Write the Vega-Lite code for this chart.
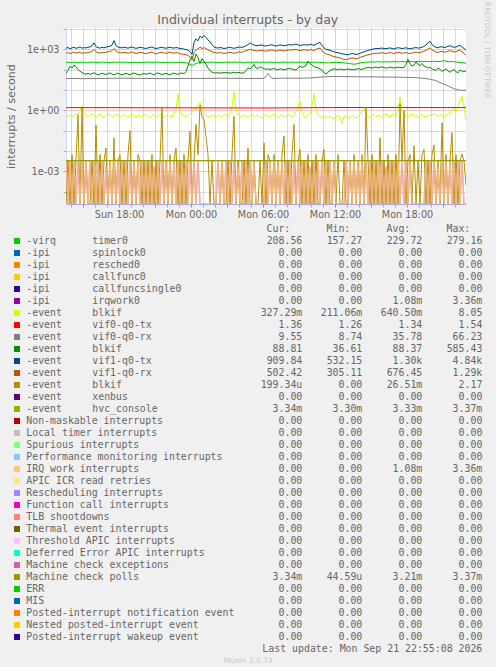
{
"$schema": "https://vega.github.io/schema/vega-lite/v6.json",
"background": "#F0F0F0",
"padding": {"left": 5, "top": 2, "right": 5, "bottom": 0},
"bounds": "flush",
"spacing": 19,
"title": {"text": "Individual interrupts - by day", "font": "DejaVu Sans", "fontSize": 12.5, "fontWeight": "normal", "color": "#666666", "anchor": "middle", "offset": -24.5},
"config": {"view": {"stroke": null}, "font": "DejaVu Sans"},
"datasets": {
"main": [
{"m":815,"a":1150,"b":640,"c":228,"d":62,"g":0.45,"h":0,"i":0.0033},
{"m":825,"a":1220,"b":690,"c":232,"d":95,"g":0.52,"h":0.0033,"i":0},
{"m":835,"a":1080,"b":610,"c":225,"d":150,"g":0.6,"h":0,"i":0.0033},
{"m":845,"a":1180,"b":670,"c":230,"d":120,"g":0.48,"h":0.0067,"i":0},
{"m":855,"a":1250,"b":720,"c":236,"d":170,"g":0.55,"h":0,"i":0.0033},
{"m":865,"a":1120,"b":650,"c":229,"d":140,"g":0.7,"h":0.0033,"i":0},
{"m":875,"a":1190,"b":680,"c":224,"d":100,"g":0.62,"h":0.6,"i":0.0033},
{"m":885,"a":1300,"b":740,"c":231,"d":85,"g":0.9,"h":0,"i":0},
{"m":895,"a":1140,"b":620,"c":235,"d":70,"g":1.6,"h":1.3,"i":0.0033},
{"m":905,"a":1210,"b":690,"c":227,"d":64,"g":0.8,"h":0,"i":0},
{"m":915,"a":1170,"b":660,"c":230,"d":60,"g":0.55,"h":0.0033,"i":0.0033},
{"m":925,"a":1260,"b":700,"c":226,"d":66,"g":0.48,"h":0,"i":0},
{"m":935,"a":1310,"b":730,"c":233,"d":58,"g":0.62,"h":0,"i":0.0033},
{"m":945,"a":1480,"b":800,"c":238,"d":63,"g":0.7,"h":0.0033,"i":0},
{"m":955,"a":2100,"b":1000,"c":231,"d":70,"g":0.52,"h":0,"i":0.0033},
{"m":965,"a":1350,"b":760,"c":228,"d":62,"g":0.45,"h":0.19,"i":0},
{"m":975,"a":1200,"b":680,"c":225,"d":55,"g":0.58,"h":0,"i":0.0033},
{"m":985,"a":1160,"b":650,"c":232,"d":60,"g":0.66,"h":0.0067,"i":0},
{"m":995,"a":1240,"b":700,"c":236,"d":67,"g":0.5,"h":0,"i":0.0033},
{"m":1005,"a":1190,"b":670,"c":230,"d":61,"g":0.43,"h":0.0033,"i":0},
{"m":1015,"a":1280,"b":720,"c":234,"d":58,"g":0.55,"h":0.014,"i":0.0017},
{"m":1025,"a":1350,"b":760,"c":229,"d":64,"g":0.72,"h":0,"i":0},
{"m":1035,"a":1420,"b":800,"c":226,"d":70,"g":0.6,"h":0.0033,"i":0.0033},
{"m":1045,"a":1600,"b":850,"c":231,"d":60,"g":0.48,"h":0,"i":0},
{"m":1055,"a":2700,"b":1100,"c":237,"d":56,"g":0.52,"h":0.045,"i":0.0033},
{"m":1065,"a":1500,"b":820,"c":233,"d":62,"g":0.65,"h":0,"i":0},
{"m":1075,"a":1300,"b":720,"c":228,"d":68,"g":0.58,"h":0.0033,"i":0.0033},
{"m":1085,"a":1220,"b":690,"c":230,"d":59,"g":0.46,"h":0.0067,"i":0},
{"m":1095,"a":1180,"b":660,"c":235,"d":55,"g":0.55,"h":0,"i":0.0033},
{"m":1105,"a":1260,"b":710,"c":229,"d":61,"g":0.62,"h":0.0033,"i":0},
{"m":1115,"a":1200,"b":680,"c":232,"d":66,"g":0.5,"h":0,"i":0.0033},
{"m":1125,"a":1150,"b":640,"c":228,"d":60,"g":0.44,"h":0.0067,"i":0},
{"m":1135,"a":1230,"b":700,"c":224,"d":57,"g":0.58,"h":0.1,"i":0.0033},
{"m":1145,"a":1310,"b":740,"c":230,"d":63,"g":0.68,"h":0,"i":0},
{"m":1155,"a":1190,"b":670,"c":234,"d":69,"g":0.53,"h":0.0033,"i":0.0033},
{"m":1165,"a":1120,"b":620,"c":231,"d":62,"g":0.47,"h":0,"i":0},
{"m":1175,"a":1180,"b":660,"c":227,"d":58,"g":0.6,"h":0.0067,"i":0.0033},
{"m":1185,"a":1260,"b":720,"c":233,"d":54,"g":0.52,"h":0.0033,"i":0},
{"m":1195,"a":1210,"b":690,"c":229,"d":60,"g":0.45,"h":0,"i":0.0033},
{"m":1205,"a":1150,"b":650,"c":226,"d":65,"g":0.56,"h":0.0033,"i":0},
{"m":1215,"a":1100,"b":610,"c":231,"d":59,"g":0.63,"h":0,"i":0.0033},
{"m":1225,"a":1180,"b":660,"c":235,"d":63,"g":0.5,"h":0.0033,"i":0},
{"m":1235,"a":1240,"b":700,"c":230,"d":68,"g":0.42,"h":0,"i":0.0033},
{"m":1245,"a":1300,"b":740,"c":226,"d":61,"g":0.55,"h":0.0067,"i":0},
{"m":1255,"a":1170,"b":650,"c":229,"d":57,"g":0.6,"h":0,"i":0.0017},
{"m":1265,"a":1090,"b":600,"c":233,"d":64,"g":0.48,"h":0.0033,"i":0},
{"m":1275,"a":1150,"b":640,"c":236,"d":70,"g":0.52,"h":0,"i":0.0033},
{"m":1285,"a":1220,"b":690,"c":230,"d":62,"g":0.66,"h":0.0033,"i":0},
{"m":1295,"a":1260,"b":720,"c":227,"d":58,"g":0.58,"h":1.4,"i":0.0033},
{"m":1305,"a":1180,"b":660,"c":232,"d":61,"g":0.47,"h":0,"i":0},
{"m":1315,"a":1130,"b":630,"c":228,"d":66,"g":0.53,"h":0.0033,"i":0.0033},
{"m":1325,"a":1210,"b":690,"c":224,"d":60,"g":0.61,"h":0,"i":0},
{"m":1335,"a":1280,"b":730,"c":230,"d":56,"g":0.5,"h":0.0067,"i":0.0033},
{"m":1345,"a":1190,"b":670,"c":234,"d":63,"g":0.45,"h":0,"i":0},
{"m":1355,"a":1140,"b":640,"c":231,"d":68,"g":0.72,"h":0.0033,"i":0.0033},
{"m":1365,"a":1230,"b":700,"c":226,"d":61,"g":1.1,"h":0.014,"i":0},
{"m":1375,"a":1170,"b":660,"c":229,"d":59,"g":6.3,"h":0,"i":0.0033},
{"m":1385,"a":1100,"b":610,"c":233,"d":65,"g":0.9,"h":0.0033,"i":0},
{"m":1395,"a":1080,"b":590,"c":228,"d":70,"g":0.6,"h":0,"i":0.0033},
{"m":1405,"a":1020,"b":560,"c":222,"d":62,"g":0.52,"h":0.0067,"i":0},
{"m":1415,"a":980,"b":540,"c":218,"d":80,"g":0.48,"h":0,"i":0.0033},
{"m":1425,"a":900,"b":500,"c":205,"d":150,"g":0.55,"h":0.0033,"i":0},
{"m":1435,"a":760,"b":420,"c":180,"d":300,"g":0.62,"h":0.095,"i":0.0033},
{"m":1445,"a":560,"b":310,"c":160,"d":470,"g":0.8,"h":0,"i":0},
{"m":1455,"a":2100,"b":700,"c":175,"d":250,"g":1.3,"h":0.0033,"i":0.0033},
{"m":1465,"a":3300,"b":950,"c":205,"d":585,"g":1.1,"h":0.2,"i":0},
{"m":1475,"a":2600,"b":1050,"c":215,"d":380,"g":1.8,"h":0.0067,"i":0.0033},
{"m":1485,"a":4500,"b":1290,"c":222,"d":200,"g":2.4,"h":1.8,"i":0},
{"m":1495,"a":3600,"b":1100,"c":230,"d":350,"g":1.2,"h":0.5,"i":0},
{"m":1505,"a":4840,"b":1200,"c":226,"d":260,"g":0.7,"h":0.35,"i":0},
{"m":1515,"a":3800,"b":1100,"c":232,"d":180,"g":0.55,"h":0.05,"i":0},
{"m":1525,"a":2900,"b":950,"c":228,"d":120,"g":0.5,"h":0.0067,"i":0},
{"m":1535,"a":2400,"b":850,"c":231,"d":90,"g":0.45,"h":0,"i":0},
{"m":1545,"a":1700,"b":760,"c":236,"d":75,"g":0.58,"h":0.0033,"i":0},
{"m":1555,"a":1300,"b":700,"c":230,"d":70,"g":0.52,"h":0,"i":0},
{"m":1565,"a":1200,"b":680,"c":227,"d":68,"g":0.47,"h":0,"i":0},
{"m":1575,"a":1150,"b":650,"c":233,"d":72,"g":0.6,"h":0,"i":0.0033},
{"m":1585,"a":1230,"b":700,"c":229,"d":66,"g":0.53,"h":0,"i":0},
{"m":1595,"a":1170,"b":660,"c":226,"d":70,"g":0.5,"h":0.0033,"i":0.0033},
{"m":1605,"a":1100,"b":630,"c":231,"d":74,"g":0.62,"h":0,"i":0},
{"m":1615,"a":1140,"b":650,"c":235,"d":69,"g":0.55,"h":0,"i":0.0033},
{"m":1625,"a":1200,"b":690,"c":230,"d":72,"g":0.48,"h":0.0033,"i":0},
{"m":1635,"a":1260,"b":720,"c":227,"d":67,"g":0.7,"h":0,"i":0.0033},
{"m":1645,"a":1180,"b":670,"c":232,"d":71,"g":1.5,"h":0.0067,"i":0},
{"m":1655,"a":1120,"b":640,"c":236,"d":75,"g":8.05,"h":0.5,"i":0.0033},
{"m":1665,"a":1190,"b":680,"c":231,"d":68,"g":1.2,"h":0,"i":0},
{"m":1675,"a":1250,"b":720,"c":228,"d":73,"g":0.6,"h":0.0033,"i":0.0017},
{"m":1685,"a":1310,"b":760,"c":233,"d":70,"g":0.52,"h":0,"i":0},
{"m":1695,"a":1230,"b":700,"c":230,"d":66,"g":0.45,"h":0,"i":0.0033},
{"m":1705,"a":1350,"b":800,"c":226,"d":72,"g":0.58,"h":0.0033,"i":0},
{"m":1715,"a":1500,"b":850,"c":231,"d":90,"g":0.5,"h":0,"i":0.0033},
{"m":1725,"a":1700,"b":900,"c":235,"d":120,"g":0.44,"h":0.014,"i":0},
{"m":1735,"a":2100,"b":1000,"c":229,"d":110,"g":0.56,"h":0,"i":0.0033},
{"m":1745,"a":1800,"b":950,"c":226,"d":130,"g":0.62,"h":0,"i":0},
{"m":1755,"a":1600,"b":880,"c":232,"d":180,"g":0.48,"h":0.0033,"i":0.0033},
{"m":1765,"a":1550,"b":850,"c":236,"d":120,"g":0.53,"h":0,"i":0},
{"m":1775,"a":1500,"b":820,"c":230,"d":115,"g":0.6,"h":0,"i":0},
{"m":1785,"a":1650,"b":900,"c":228,"d":140,"g":0.47,"h":0.0033,"i":0},
{"m":1795,"a":1600,"b":870,"c":233,"d":125,"g":0.42,"h":0,"i":0},
{"m":1805,"a":1500,"b":830,"c":231,"d":110,"g":0.55,"h":0.025,"i":0},
{"m":1815,"a":1450,"b":800,"c":227,"d":105,"g":0.62,"h":0,"i":0.0033},
{"m":1825,"a":1550,"b":860,"c":232,"d":112,"g":0.5,"h":0.0067,"i":0},
{"m":1835,"a":1600,"b":900,"c":236,"d":100,"g":0.45,"h":0.0033,"i":0.0033},
{"m":1845,"a":1700,"b":950,"c":231,"d":108,"g":0.58,"h":0,"i":0},
{"m":1855,"a":1500,"b":850,"c":228,"d":115,"g":0.66,"h":0.0067,"i":0.0033},
{"m":1865,"a":1450,"b":820,"c":234,"d":102,"g":0.5,"h":0,"i":0},
{"m":1875,"a":1550,"b":870,"c":230,"d":98,"g":0.43,"h":0.0033,"i":0.0033},
{"m":1885,"a":1650,"b":920,"c":226,"d":110,"g":0.55,"h":0,"i":0},
{"m":1895,"a":1600,"b":880,"c":232,"d":106,"g":0.6,"h":0.0067,"i":0.0033},
{"m":1905,"a":1500,"b":830,"c":235,"d":100,"g":0.48,"h":0.055,"i":0},
{"m":1915,"a":1550,"b":860,"c":230,"d":104,"g":0.52,"h":0,"i":0.0033},
{"m":1925,"a":1650,"b":920,"c":228,"d":112,"g":0.65,"h":0.0033,"i":0},
{"m":1935,"a":1700,"b":950,"c":233,"d":118,"g":0.56,"h":0,"i":0.0033},
{"m":1945,"a":1600,"b":900,"c":237,"d":106,"g":0.47,"h":0.0067,"i":0},
{"m":1955,"a":1750,"b":980,"c":231,"d":100,"g":0.6,"h":0.2,"i":0.0033},
{"m":1965,"a":1800,"b":1000,"c":227,"d":96,"g":0.9,"h":0,"i":0},
{"m":1975,"a":1650,"b":920,"c":232,"d":120,"g":1.4,"h":0.0033,"i":0.0033},
{"m":1985,"a":1550,"b":860,"c":236,"d":150,"g":2.8,"h":0.012,"i":0},
{"m":1995,"a":1600,"b":900,"c":230,"d":130,"g":0.8,"h":0,"i":0.0033},
{"m":2005,"a":1700,"b":950,"c":228,"d":140,"g":0.5,"h":0.0033,"i":0},
{"m":2015,"a":1650,"b":920,"c":233,"d":160,"g":0.45,"h":0,"i":0.0033},
{"m":2025,"a":1600,"b":880,"c":229,"d":265,"g":0.55,"h":0.0067,"i":0},
{"m":2035,"a":1750,"b":960,"c":226,"d":200,"g":0.62,"h":0,"i":0.0017},
{"m":2045,"a":1700,"b":940,"c":231,"d":170,"g":1.5,"h":0.0033,"i":0},
{"m":2055,"a":1550,"b":860,"c":237,"d":140,"g":6.3,"h":0,"i":0.0033},
{"m":2065,"a":1800,"b":1000,"c":232,"d":130,"g":1.2,"h":0.0067,"i":0},
{"m":2075,"a":2000,"b":1100,"c":228,"d":120,"g":0.58,"h":0,"i":0.0033},
{"m":2085,"a":2200,"b":1150,"c":230,"d":110,"g":0.5,"h":0,"i":0},
{"m":2095,"a":1500,"b":850,"c":225,"d":95,"g":0.44,"h":0.0033,"i":0.0033},
{"m":2105,"a":1200,"b":700,"c":220,"d":70,"g":0.52,"h":0.012,"i":0},
{"m":2115,"a":1000,"b":600,"c":215,"d":62,"g":0.48,"h":0,"i":0.0033},
{"m":2125,"a":950,"b":560,"c":212,"d":75,"g":0.4,"h":0.0033,"i":0},
{"m":2135,"a":900,"b":520,"c":218,"d":90,"g":0.53,"h":0,"i":0.0033},
{"m":2145,"a":820,"b":470,"c":222,"d":100,"g":0.46,"h":0,"i":0},
{"m":2155,"a":760,"b":440,"c":226,"d":110,"g":0.38,"h":0.0033,"i":0.0033},
{"m":2165,"a":700,"b":420,"c":230,"d":105,"g":0.5,"h":0,"i":0},
{"m":2175,"a":680,"b":400,"c":228,"d":98,"g":0.55,"h":0.0067,"i":0},
{"m":2185,"a":640,"b":380,"c":225,"d":108,"g":0.42,"h":0,"i":0},
{"m":2195,"a":600,"b":350,"c":220,"d":102,"g":0.22,"h":0,"i":0},
{"m":2205,"a":580,"b":320,"c":215,"d":96,"g":0.47,"h":0.0033,"i":0},
{"m":2215,"a":560,"b":310,"c":210,"d":104,"g":0.52,"h":0,"i":0.0033},
{"m":2225,"a":540,"b":330,"c":205,"d":110,"g":0.44,"h":0,"i":0},
{"m":2235,"a":580,"b":360,"c":198,"d":100,"g":0.4,"h":0.0033,"i":0.0033},
{"m":2245,"a":620,"b":380,"c":190,"d":106,"g":0.55,"h":0,"i":0},
{"m":2255,"a":600,"b":360,"c":185,"d":98,"g":0.48,"h":0.0067,"i":0.0033},
{"m":2265,"a":560,"b":340,"c":190,"d":104,"g":0.42,"h":0,"i":0},
{"m":2275,"a":580,"b":360,"c":200,"d":112,"g":0.5,"h":0.0033,"i":0.0033},
{"m":2285,"a":640,"b":400,"c":212,"d":108,"g":0.62,"h":0,"i":0},
{"m":2295,"a":700,"b":430,"c":222,"d":100,"g":0.9,"h":0.0067,"i":0.0033},
{"m":2305,"a":760,"b":460,"c":228,"d":115,"g":1.2,"h":0,"i":0},
{"m":2315,"a":820,"b":500,"c":232,"d":120,"g":0.7,"h":1.4,"i":0.0033},
{"m":2325,"a":880,"b":540,"c":236,"d":130,"g":0.5,"h":0.0033,"i":0},
{"m":2335,"a":940,"b":560,"c":240,"d":125,"g":0.45,"h":0,"i":0.0033},
{"m":2345,"a":1000,"b":600,"c":244,"d":118,"g":0.55,"h":0.0067,"i":0},
{"m":2355,"a":1050,"b":620,"c":238,"d":128,"g":0.62,"h":0,"i":0.0033},
{"m":2365,"a":1100,"b":650,"c":242,"d":135,"g":0.48,"h":0.0033,"i":0},
{"m":2375,"a":1080,"b":630,"c":246,"d":122,"g":0.56,"h":0,"i":0.0033},
{"m":2385,"a":1120,"b":660,"c":240,"d":130,"g":0.5,"h":0.045,"i":0},
{"m":2395,"a":1150,"b":680,"c":237,"d":140,"g":0.44,"h":0,"i":0.0033},
{"m":2405,"a":1100,"b":650,"c":243,"d":126,"g":0.58,"h":0.0033,"i":0},
{"m":2415,"a":1080,"b":620,"c":248,"d":118,"g":0.65,"h":0,"i":0.0017},
{"m":2425,"a":1120,"b":660,"c":242,"d":124,"g":0.52,"h":0.0067,"i":0},
{"m":2435,"a":1180,"b":700,"c":238,"d":132,"g":0.47,"h":0,"i":0.0033},
{"m":2445,"a":1100,"b":650,"c":245,"d":128,"g":0.6,"h":0.0033,"i":0},
{"m":2455,"a":1050,"b":620,"c":250,"d":120,"g":0.7,"h":0,"i":0.0033},
{"m":2465,"a":1130,"b":670,"c":244,"d":126,"g":0.55,"h":0.0067,"i":0},
{"m":2475,"a":1200,"b":710,"c":240,"d":134,"g":1.1,"h":0,"i":0.0033},
{"m":2485,"a":1160,"b":680,"c":246,"d":130,"g":4.5,"h":2.17,"i":0},
{"m":2495,"a":1090,"b":640,"c":252,"d":122,"g":0.9,"h":0.0033,"i":0.0033},
{"m":2505,"a":1140,"b":670,"c":247,"d":128,"g":0.6,"h":1.0,"i":0},
{"m":2515,"a":1190,"b":700,"c":243,"d":180,"g":0.52,"h":0,"i":0.0033},
{"m":2525,"a":1110,"b":650,"c":249,"d":320,"g":0.48,"h":0.0033,"i":0},
{"m":2535,"a":1060,"b":620,"c":254,"d":200,"g":0.6,"h":0.0067,"i":0.0033},
{"m":2545,"a":1120,"b":660,"c":248,"d":150,"g":0.66,"h":0,"i":0},
{"m":2555,"a":1170,"b":690,"c":244,"d":170,"g":0.5,"h":0.018,"i":0},
{"m":2565,"a":1230,"b":730,"c":250,"d":240,"g":0.56,"h":0,"i":0},
{"m":2575,"a":1150,"b":680,"c":256,"d":190,"g":0.45,"h":0.0033,"i":0},
{"m":2585,"a":1180,"b":700,"c":251,"d":160,"g":0.58,"h":0,"i":0},
{"m":2595,"a":1250,"b":740,"c":247,"d":200,"g":0.62,"h":0.0067,"i":0},
{"m":2605,"a":1400,"b":820,"c":253,"d":150,"g":0.5,"h":0.012,"i":0},
{"m":2615,"a":1600,"b":900,"c":258,"d":140,"g":0.47,"h":0,"i":0.0033},
{"m":2625,"a":2100,"b":1050,"c":252,"d":120,"g":0.55,"h":0.0033,"i":0},
{"m":2635,"a":2500,"b":1200,"c":248,"d":130,"g":0.6,"h":0,"i":0.0033},
{"m":2645,"a":1700,"b":950,"c":255,"d":110,"g":0.52,"h":0.0067,"i":0},
{"m":2655,"a":1400,"b":820,"c":260,"d":100,"g":0.7,"h":0.02,"i":0.0033},
{"m":2665,"a":1250,"b":740,"c":254,"d":90,"g":0.58,"h":0,"i":0},
{"m":2675,"a":1180,"b":700,"c":250,"d":120,"g":0.5,"h":0.0033,"i":0.0017},
{"m":2685,"a":1300,"b":760,"c":257,"d":105,"g":0.62,"h":0,"i":0},
{"m":2695,"a":1350,"b":790,"c":262,"d":80,"g":0.55,"h":0.24,"i":0.0033},
{"m":2705,"a":1220,"b":720,"c":279,"d":95,"g":0.48,"h":0,"i":0},
{"m":2715,"a":1280,"b":750,"c":256,"d":110,"g":0.6,"h":0.0067,"i":0.0033},
{"m":2725,"a":1400,"b":820,"c":250,"d":85,"g":0.66,"h":0,"i":0},
{"m":2735,"a":1500,"b":880,"c":246,"d":75,"g":0.75,"h":0.0033,"i":0.0033},
{"m":2745,"a":1350,"b":790,"c":252,"d":90,"g":0.9,"h":0.08,"i":0},
{"m":2755,"a":1260,"b":740,"c":244,"d":100,"g":1.2,"h":0,"i":0.0033},
{"m":2765,"a":1300,"b":760,"c":238,"d":80,"g":0.8,"h":0.0067,"i":0},
{"m":2775,"a":1450,"b":850,"c":232,"d":70,"g":1.5,"h":0,"i":0.0033},
{"m":2785,"a":1600,"b":940,"c":226,"d":95,"g":3.0,"h":0.0033,"i":0},
{"m":2795,"a":1300,"b":760,"c":220,"d":85,"g":5.0,"h":0.007,"i":0.0033},
{"m":2805,"a":1100,"b":640,"c":214,"d":78,"g":1.4,"h":0.0033,"i":0},
{"m":2815,"a":910,"b":502,"c":208,"d":89,"g":0.33,"h":0.0002,"i":0}
],
"gray": [
{"m":815,"e":37},{"m":900,"e":36},{"m":1000,"e":37},{"m":1100,"e":38},{"m":1200,"e":37},{"m":1300,"e":36},{"m":1400,"e":37},{"m":1500,"e":37},{"m":1600,"e":38},{"m":1700,"e":37},{"m":1800,"e":37},{"m":1815,"e":45},{"m":1825,"e":66},{"m":1835,"e":48},{"m":1845,"e":37},{"m":1900,"e":38},{"m":2000,"e":38},{"m":2050,"e":40},{"m":2100,"e":44},{"m":2150,"e":46},{"m":2250,"e":45},{"m":2350,"e":44},{"m":2450,"e":43},{"m":2500,"e":42},{"m":2570,"e":40},{"m":2620,"e":36},{"m":2660,"e":30},{"m":2700,"e":20},{"m":2730,"e":15},{"m":2760,"e":11},{"m":2790,"e":9.6},{"m":2815,"e":9.55}
],
"flat": [
{"m":815,"f":1.36,"j":0.00334,"p":0.00334},{"m":1300,"f":1.33,"j":0.00333,"p":0.00333},{"m":1800,"f":1.3,"j":0.00332,"p":0.00333},{"m":2200,"f":1.37,"j":0.00333,"p":0.00333},{"m":2815,"f":1.36,"j":0.00334,"p":0.00334}
],
"legend": [
{"r":0,"c":"#00CC00","a":"-virq","b":"timer0","cur":"208.56\u00a0","min":"157.27\u00a0","avg":"229.72\u00a0","max":"279.16\u00a0"},
{"r":1,"c":"#0066B3","a":"-ipi","b":"spinlock0","cur":"0.00\u00a0","min":"0.00\u00a0","avg":"0.00\u00a0","max":"0.00\u00a0"},
{"r":2,"c":"#FF8000","a":"-ipi","b":"resched0","cur":"0.00\u00a0","min":"0.00\u00a0","avg":"0.00\u00a0","max":"0.00\u00a0"},
{"r":3,"c":"#FFCC00","a":"-ipi","b":"callfunc0","cur":"0.00\u00a0","min":"0.00\u00a0","avg":"0.00\u00a0","max":"0.00\u00a0"},
{"r":4,"c":"#330099","a":"-ipi","b":"callfuncsingle0","cur":"0.00\u00a0","min":"0.00\u00a0","avg":"0.00\u00a0","max":"0.00\u00a0"},
{"r":5,"c":"#990099","a":"-ipi","b":"irqwork0","cur":"0.00\u00a0","min":"0.00\u00a0","avg":"1.08m","max":"3.36m"},
{"r":6,"c":"#CCFF00","a":"-event","b":"blkif","cur":"327.29m","min":"211.06m","avg":"640.50m","max":"8.05\u00a0"},
{"r":7,"c":"#FF0000","a":"-event","b":"vif0-q0-tx","cur":"1.36\u00a0","min":"1.26\u00a0","avg":"1.34\u00a0","max":"1.54\u00a0"},
{"r":8,"c":"#808080","a":"-event","b":"vif0-q0-rx","cur":"9.55\u00a0","min":"8.74\u00a0","avg":"35.78\u00a0","max":"66.23\u00a0"},
{"r":9,"c":"#008F00","a":"-event","b":"blkif","cur":"88.81\u00a0","min":"36.61\u00a0","avg":"88.37\u00a0","max":"585.43\u00a0"},
{"r":10,"c":"#00487D","a":"-event","b":"vif1-q0-tx","cur":"909.84\u00a0","min":"532.15\u00a0","avg":"1.30k","max":"4.84k"},
{"r":11,"c":"#B35A00","a":"-event","b":"vif1-q0-rx","cur":"502.42\u00a0","min":"305.11\u00a0","avg":"676.45\u00a0","max":"1.29k"},
{"r":12,"c":"#B38F00","a":"-event","b":"blkif","cur":"199.34u","min":"0.00\u00a0","avg":"26.51m","max":"2.17\u00a0"},
{"r":13,"c":"#6B006B","a":"-event","b":"xenbus","cur":"0.00\u00a0","min":"0.00\u00a0","avg":"0.00\u00a0","max":"0.00\u00a0"},
{"r":14,"c":"#8FB300","a":"-event","b":"hvc_console","cur":"3.34m","min":"3.30m","avg":"3.33m","max":"3.37m"},
{"r":15,"c":"#B30000","a":"Non-maskable interrupts","b":"","cur":"0.00\u00a0","min":"0.00\u00a0","avg":"0.00\u00a0","max":"0.00\u00a0"},
{"r":16,"c":"#BEBEBE","a":"Local timer interrupts","b":"","cur":"0.00\u00a0","min":"0.00\u00a0","avg":"0.00\u00a0","max":"0.00\u00a0"},
{"r":17,"c":"#80FF80","a":"Spurious interrupts","b":"","cur":"0.00\u00a0","min":"0.00\u00a0","avg":"0.00\u00a0","max":"0.00\u00a0"},
{"r":18,"c":"#80C9FF","a":"Performance monitoring interrupts","b":"","cur":"0.00\u00a0","min":"0.00\u00a0","avg":"0.00\u00a0","max":"0.00\u00a0"},
{"r":19,"c":"#FFC080","a":"IRQ work interrupts","b":"","cur":"0.00\u00a0","min":"0.00\u00a0","avg":"1.08m","max":"3.36m"},
{"r":20,"c":"#FFE680","a":"APIC ICR read retries","b":"","cur":"0.00\u00a0","min":"0.00\u00a0","avg":"0.00\u00a0","max":"0.00\u00a0"},
{"r":21,"c":"#AA80FF","a":"Rescheduling interrupts","b":"","cur":"0.00\u00a0","min":"0.00\u00a0","avg":"0.00\u00a0","max":"0.00\u00a0"},
{"r":22,"c":"#EE00CC","a":"Function call interrupts","b":"","cur":"0.00\u00a0","min":"0.00\u00a0","avg":"0.00\u00a0","max":"0.00\u00a0"},
{"r":23,"c":"#FF8080","a":"TLB shootdowns","b":"","cur":"0.00\u00a0","min":"0.00\u00a0","avg":"0.00\u00a0","max":"0.00\u00a0"},
{"r":24,"c":"#666600","a":"Thermal event interrupts","b":"","cur":"0.00\u00a0","min":"0.00\u00a0","avg":"0.00\u00a0","max":"0.00\u00a0"},
{"r":25,"c":"#FFBFFF","a":"Threshold APIC interrupts","b":"","cur":"0.00\u00a0","min":"0.00\u00a0","avg":"0.00\u00a0","max":"0.00\u00a0"},
{"r":26,"c":"#00FFCC","a":"Deferred Error APIC interrupts","b":"","cur":"0.00\u00a0","min":"0.00\u00a0","avg":"0.00\u00a0","max":"0.00\u00a0"},
{"r":27,"c":"#CC6699","a":"Machine check exceptions","b":"","cur":"0.00\u00a0","min":"0.00\u00a0","avg":"0.00\u00a0","max":"0.00\u00a0"},
{"r":28,"c":"#999900","a":"Machine check polls","b":"","cur":"3.34m","min":"44.59u","avg":"3.21m","max":"3.37m"},
{"r":29,"c":"#00CC00","a":"ERR","b":"","cur":"0.00\u00a0","min":"0.00\u00a0","avg":"0.00\u00a0","max":"0.00\u00a0"},
{"r":30,"c":"#0066B3","a":"MIS","b":"","cur":"0.00\u00a0","min":"0.00\u00a0","avg":"0.00\u00a0","max":"0.00\u00a0"},
{"r":31,"c":"#FF8000","a":"Posted-interrupt notification event","b":"","cur":"0.00\u00a0","min":"0.00\u00a0","avg":"0.00\u00a0","max":"0.00\u00a0"},
{"r":32,"c":"#FFCC00","a":"Nested posted-interrupt event","b":"","cur":"0.00\u00a0","min":"0.00\u00a0","avg":"0.00\u00a0","max":"0.00\u00a0"},
{"r":33,"c":"#330099","a":"Posted-interrupt wakeup event","b":"","cur":"0.00\u00a0","min":"0.00\u00a0","avg":"0.00\u00a0","max":"0.00\u00a0"}
],
"notes": [
{"r":-1,"x":44,"t":"Cur:"},{"r":-1,"x":54,"t":"Min:"},{"r":-1,"x":64,"t":"Avg:"},{"r":-1,"x":74,"t":"Max:"},{"r":34,"x":76,"t":"Last update: Mon Sep 21 22:55:08 2026"}
],
"footer": [
{"r":35,"x":37,"t":"Munin 2.0.73"}
]
},
"vconcat": [
{
"width": 400,
"height": 176,
"view": {"fill": "#FFFFFF"},
"title": {"text": "RRDTOOL / TOBI OETIKER", "orient": "right", "anchor": "start", "font": "DejaVu Sans", "fontSize": 7.5, "fontWeight": "normal", "color": "#C8C8C8", "offset": 17, "dx": -22},
"encoding": {
"x": {"field": "m", "type": "quantitative",
"scale": {"domain": [815, 2815], "nice": false, "zero": false},
"axis": {"values": [840,900,960,1020,1080,1140,1200,1260,1320,1380,1440,1500,1560,1620,1680,1740,1800,1860,1920,1980,2040,2100,2160,2220,2280,2340,2400,2460,2520,2580,2640,2700,2760],
"title": null,
"labelExpr": "datum.value % 360 == 0 ? (datum.value < 1440 ? 'Sun ' : 'Mon ') + (floor((datum.value % 1440) / 60) < 10 ? '0' : '') + floor((datum.value % 1440) / 60) + ':00' : ''",
"labelFont": "DejaVu Sans", "labelFontSize": 9.7, "labelColor": "#666666", "labelPadding": 2, "labelFlush": false, "labelOverlap": false,
"tickSize": 3, "tickColor": {"condition": {"test": "datum.value % 180 == 0", "value": "#E07070"}, "value": "#A8A8A8"},
"grid": true, "gridDash": [1, 1], "gridWidth": 1,
"gridColor": {"condition": {"test": "datum.value % 180 == 0", "value": "#E89090"}, "value": "#B4B4B4"},
"domainColor": "#A8A8E8", "domainWidth": 1}}
},
"layer": [
{"data": {"name": "main"}, "mark": {"type": "line", "color": "#990099", "strokeWidth": 1.2, "opacity": 0.55, "clip": true},
"encoding": {"y": {"field": "i", "type": "quantitative",
"scale": {"type": "log", "domain": [0.0000246, 11200], "nice": false, "clamp": true},
"axis": {"values": [0.0001, 0.001, 0.01, 0.1, 1, 10, 100, 1000, 10000],
"title": "interrupts / second", "titleFont": "DejaVu Sans", "titleFontSize": 11.1, "titleFontWeight": "normal", "titleColor": "#666666", "titleX": -55, "titleBaseline": "middle", "titleAlign": "center",
"labelExpr": "datum.value == 1000 ? '1e+03' : datum.value == 1 ? '1e+00' : datum.value == 0.001 ? '1e-03' : ''",
"labelFont": "DejaVu Sans", "labelFontSize": 9.7, "labelColor": "#666666", "labelPadding": 4, "labelOverlap": false, "labelFlush": false,
"tickSize": 3, "tickColor": "#A8A8A8",
"grid": true, "gridDash": [1, 1], "gridWidth": 1,
"gridColor": {"condition": {"test": "datum.value == 1000 || datum.value == 1 || datum.value == 0.001", "value": "#E89090"}, "value": "#B4B4B4"},
"domainColor": "#CFD6F8", "domainWidth": 1}}}},
{"data": {"name": "main"}, "mark": {"type": "line", "color": "#00CC00", "strokeWidth": 1, "clip": true}, "encoding": {"y": {"field": "c", "type": "quantitative"}}},
{"data": {"name": "main"}, "mark": {"type": "line", "color": "#CCFF00", "strokeWidth": 1, "clip": true}, "encoding": {"y": {"field": "g", "type": "quantitative"}}},
{"data": {"name": "flat"}, "mark": {"type": "line", "color": "#FF0000", "strokeWidth": 1, "clip": true}, "encoding": {"y": {"field": "f", "type": "quantitative"}}},
{"data": {"name": "gray"}, "mark": {"type": "line", "color": "#808080", "strokeWidth": 1, "clip": true}, "encoding": {"y": {"field": "e", "type": "quantitative"}}},
{"data": {"name": "main"}, "mark": {"type": "line", "color": "#008F00", "strokeWidth": 1, "clip": true}, "encoding": {"y": {"field": "d", "type": "quantitative"}}},
{"data": {"name": "main"}, "mark": {"type": "line", "color": "#00487D", "strokeWidth": 1, "clip": true}, "encoding": {"y": {"field": "a", "type": "quantitative"}}},
{"data": {"name": "main"}, "mark": {"type": "line", "color": "#B35A00", "strokeWidth": 1, "clip": true}, "encoding": {"y": {"field": "b", "type": "quantitative"}}},
{"data": {"name": "main"}, "mark": {"type": "line", "color": "#B38F00", "strokeWidth": 1, "clip": true}, "encoding": {"y": {"field": "h", "type": "quantitative"}}},
{"data": {"name": "flat"}, "mark": {"type": "line", "color": "#8FB300", "strokeWidth": 1, "clip": true}, "encoding": {"y": {"field": "j", "type": "quantitative"}}},
{"data": {"name": "main"}, "mark": {"type": "line", "color": "#FFC080", "strokeWidth": 1.4, "opacity": 0.8, "clip": true}, "encoding": {"y": {"field": "i", "type": "quantitative"}}},
{"data": {"name": "flat"}, "mark": {"type": "line", "color": "#999900", "strokeWidth": 1, "clip": true}, "encoding": {"y": {"field": "p", "type": "quantitative"}}}
]
},
{
"width": 400,
"height": 444,
"data": {"name": "legend"},
"encoding": {"y": {"field": "r", "type": "quantitative", "scale": {"domain": [-1.5, 35.5], "reverse": true, "nice": false, "zero": false}, "axis": null}},
"layer": [
{"mark": {"type": "square", "size": 36, "opacity": 1, "filled": true},
"encoding": {"x": {"datum": -1.55, "type": "quantitative", "scale": {"domain": [6.62, 73.28], "nice": false, "zero": false}, "axis": null}, "color": {"field": "c", "type": "nominal", "scale": null}}},
{"mark": {"type": "text", "align": "left", "baseline": "middle", "font": "DejaVu Sans Mono", "fontSize": 9.9, "color": "#666666"},
"encoding": {"x": {"datum": 0, "type": "quantitative", "axis": null}, "text": {"field": "a"}}},
{"mark": {"type": "text", "align": "left", "baseline": "middle", "font": "DejaVu Sans Mono", "fontSize": 9.9, "color": "#666666"},
"encoding": {"x": {"datum": 11, "type": "quantitative", "axis": null}, "text": {"field": "b"}}},
{"mark": {"type": "text", "align": "right", "baseline": "middle", "font": "DejaVu Sans Mono", "fontSize": 9.9, "color": "#666666"},
"encoding": {"x": {"datum": 46, "type": "quantitative", "axis": null}, "text": {"field": "cur"}}},
{"mark": {"type": "text", "align": "right", "baseline": "middle", "font": "DejaVu Sans Mono", "fontSize": 9.9, "color": "#666666"},
"encoding": {"x": {"datum": 56, "type": "quantitative", "axis": null}, "text": {"field": "min"}}},
{"mark": {"type": "text", "align": "right", "baseline": "middle", "font": "DejaVu Sans Mono", "fontSize": 9.9, "color": "#666666"},
"encoding": {"x": {"datum": 66, "type": "quantitative", "axis": null}, "text": {"field": "avg"}}},
{"mark": {"type": "text", "align": "right", "baseline": "middle", "font": "DejaVu Sans Mono", "fontSize": 9.9, "color": "#666666"},
"encoding": {"x": {"datum": 76, "type": "quantitative", "axis": null}, "text": {"field": "max"}}},
{"data": {"name": "notes"}, "mark": {"type": "text", "align": "right", "baseline": "middle", "font": "DejaVu Sans Mono", "fontSize": 9.9, "color": "#666666"},
"encoding": {"x": {"field": "x", "type": "quantitative", "axis": null}, "text": {"field": "t"}}},
{"data": {"name": "footer"}, "mark": {"type": "text", "align": "center", "baseline": "middle", "font": "DejaVu Sans", "fontSize": 7.5, "color": "#C8C8C8"},
"encoding": {"x": {"field": "x", "type": "quantitative", "axis": null}, "text": {"field": "t"}}}
]
}
]
}
